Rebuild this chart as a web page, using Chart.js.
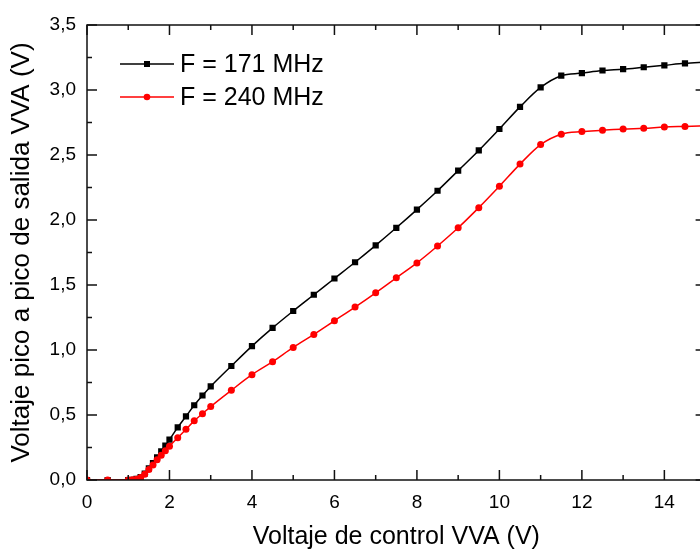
<!DOCTYPE html>
<html>
<head>
<meta charset="utf-8">
<script src="https://cdn.jsdelivr.net/npm/chart.js@4"></script>
<style>
  html, body { margin: 0; padding: 0; overflow: hidden; background: #fff; }
  #wrap { width: 700px; height: 552px; overflow: hidden; }
</style>
</head>
<body>
<div id="wrap"><canvas id="vvaChart" width="710" height="552" style="width:710px;height:552px"></canvas></div>
<script>
// Tensión de control (V)
const controlVoltage = [0, 0.5, 1.0, 1.1, 1.2, 1.3, 1.4, 1.5, 1.6, 1.7, 1.8, 1.9, 2.0,
    2.2, 2.4, 2.6, 2.8, 3.0, 3.5, 4.0, 4.5, 5.0, 5.5, 6.0, 6.5, 7.0, 7.5, 8.0, 8.5,
    9.0, 9.5, 10.0, 10.5, 11.0, 11.5, 12.0, 12.5, 13.0, 13.5, 14.0, 14.5, 15.0];

// Voltaje pico a pico (V) para cada frecuencia
const vpp171 = [0, 0, 0, 0.002, 0.008, 0.022, 0.05, 0.09, 0.13, 0.175, 0.22, 0.265, 0.31,
    0.405, 0.49, 0.575, 0.65, 0.72, 0.877, 1.03, 1.17, 1.30, 1.425, 1.55, 1.675, 1.805, 1.94, 2.08, 2.225,
    2.38, 2.535, 2.70, 2.87, 3.02, 3.11, 3.13, 3.15, 3.16, 3.175, 3.19, 3.205, 3.215];
const vpp240 = [0, 0, 0, 0.002, 0.006, 0.02, 0.045, 0.08, 0.115, 0.155, 0.19, 0.225, 0.26,
    0.325, 0.39, 0.455, 0.51, 0.565, 0.69, 0.81, 0.91, 1.02, 1.12, 1.225, 1.33, 1.44, 1.555, 1.67, 1.80,
    1.94, 2.095, 2.26, 2.43, 2.58, 2.66, 2.68, 2.69, 2.70, 2.705, 2.715, 2.72, 2.725];

const seriesLabels = ['F = 171 MHz', 'F = 240 MHz'];
const xTitle = 'Voltaje de control VVA (V)';
const yTitle = 'Voltaje pico a pico de salida VVA (V)';

const FONT = "'Liberation Sans', Arial, sans-serif";

function toPoints(ys) {
    return controlVoltage.map((x, i) => ({ x: x, y: ys[i] }));
}

// Marco y marcas hacia dentro (estilo Origin)
const framePlugin = {
    id: 'frame',
    afterDatasetsDraw(chart) {
        const { ctx, chartArea: a, scales: { x, y } } = chart;
        ctx.save();
        ctx.strokeStyle = '#111';
        ctx.lineWidth = 1.5;
        ctx.strokeRect(a.left, a.top, a.right - a.left, a.bottom - a.top);
        ctx.beginPath();
        for (let v = 0; v <= 15; v += 1) {
            const px = x.getPixelForValue(v);
            const len = v % 2 === 0 ? 10 : 5;
            ctx.moveTo(px, a.bottom); ctx.lineTo(px, a.bottom - len);
            ctx.moveTo(px, a.top); ctx.lineTo(px, a.top + len);
        }
        for (let k = 0; k <= 14; k++) {
            const py = y.getPixelForValue(k * 0.25);
            const len = k % 2 === 0 ? 10 : 5;
            ctx.moveTo(a.left, py); ctx.lineTo(a.left + len, py);
            ctx.moveTo(a.right, py); ctx.lineTo(a.right - len, py);
        }
        ctx.stroke();
        ctx.restore();
    }
};

// Leyenda con línea y marcador
const legendPlugin = {
    id: 'lineLegend',
    afterDraw(chart) {
        const ctx = chart.ctx;
        const rows = [
            { ds: chart.data.datasets[0], y: 64 },
            { ds: chart.data.datasets[1], y: 97 }
        ];
        ctx.save();
        rows.forEach(r => {
            ctx.strokeStyle = r.ds.borderColor;
            ctx.lineWidth = 1.5;
            ctx.beginPath();
            ctx.moveTo(120, r.y); ctx.lineTo(174, r.y);
            ctx.stroke();
            ctx.fillStyle = r.ds.borderColor;
            ctx.beginPath();
            if (r.ds.pointStyle === 'rect') {
                ctx.rect(144, r.y - 3, 6, 6);
            } else {
                ctx.arc(147, r.y, 3.3, 0, Math.PI * 2);
            }
            ctx.fill();
            ctx.fillStyle = '#000';
            ctx.font = '25px ' + FONT;
            ctx.textBaseline = 'middle';
            ctx.textAlign = 'left';
            ctx.fillText(r.ds.label, 180, r.y + 1);
        });
        ctx.restore();
    }
};

const ctx = document.getElementById('vvaChart').getContext('2d');
new Chart(ctx, {
    type: 'line',
    data: {
        datasets: [
            {
                label: seriesLabels[0],
                data: toPoints(vpp171),
                borderColor: '#000000',
                backgroundColor: '#000000',
                borderWidth: 1.5,
                pointStyle: 'rect',
                pointRadius: 4.4,
                pointBorderWidth: 0,
                cubicInterpolationMode: 'monotone',
                order: 2
            },
            {
                label: seriesLabels[1],
                data: toPoints(vpp240),
                borderColor: '#ff0000',
                backgroundColor: '#ff0000',
                borderWidth: 1.5,
                pointStyle: 'circle',
                pointRadius: 3.5,
                pointBorderWidth: 0,
                cubicInterpolationMode: 'monotone',
                order: 1
            }
        ]
    },
    options: {
        responsive: false,
        animation: false,
        layout: { padding: { top: 25, right: 2, bottom: 0, left: 0 } },
        plugins: { legend: { display: false }, tooltip: { enabled: false } },
        scales: {
            x: {
                type: 'linear',
                min: 0,
                max: 15,
                grid: { display: false, drawTicks: false },
                border: { display: false },
                ticks: {
                    stepSize: 2,
                    includeBounds: false,
                    padding: 11,
                    color: '#000',
                    font: { family: FONT, size: 19 }
                },
                title: {
                    display: true,
                    text: xTitle,
                    color: '#000',
                    font: { family: FONT, size: 25, lineHeight: 1.2 },
                    padding: { top: 0, bottom: 0 }
                },
                afterFit(scale) { scale.height = 72; }
            },
            y: {
                min: 0,
                max: 3.5,
                grid: { display: false, drawTicks: false },
                border: { display: false },
                ticks: {
                    stepSize: 0.5,
                    padding: 11,
                    color: '#000',
                    font: { family: FONT, size: 19 },
                    callback: v => v.toFixed(1).replace('.', ',')
                },
                title: {
                    display: true,
                    text: yTitle,
                    color: '#000',
                    font: { family: FONT, size: 26, lineHeight: 1.2 },
                    padding: { top: 6, bottom: 0 }
                },
                afterFit(scale) { scale.width = 87; }
            }
        }
    },
    plugins: [framePlugin, legendPlugin]
});
</script>
</body>
</html>
